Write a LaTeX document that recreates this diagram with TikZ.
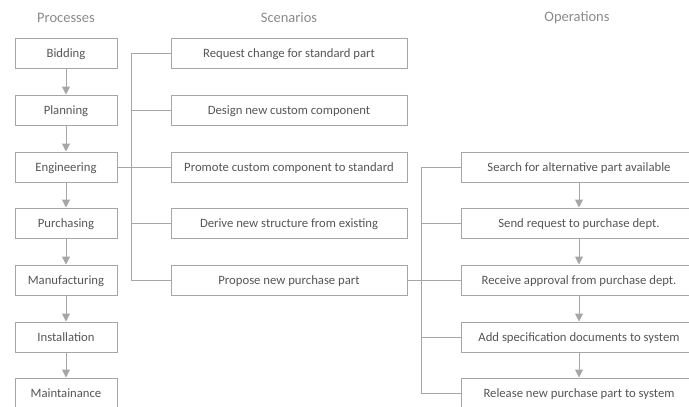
\documentclass[tikz,border=0pt]{standalone}
\usepackage{fontspec}
\setmainfont{Carlito}
\usetikzlibrary{arrows.meta}
\definecolor{boxline}{HTML}{A6A6A6}
\definecolor{boxtext}{HTML}{555555}
\definecolor{titletext}{HTML}{8A8A8A}
\begin{document}
\begin{tikzpicture}[x=1pt,y=-1pt,
  procbox/.style={draw=boxline,line width=1pt,minimum width=102pt,minimum height=30pt,inner sep=0pt,text=boxtext,font=\fontsize{12.7}{14}\selectfont,text height=10.5pt,text depth=1pt},
  widebox/.style={procbox,minimum width=236pt},
  coltitle/.style={text=titletext,font=\fontsize{14.5}{16}\selectfont},
  flow/.style={draw=boxline,line width=1pt,-{Triangle[width=8pt,length=8pt]}},
  link/.style={draw=boxline,line width=1pt}]
\useasboundingbox (0,0) rectangle (689,407);
\node[coltitle] (tp) at (66,18) {Processes};
\node[coltitle] (ts) at (289,18) {Scenarios};
\node[coltitle] (to) at (577,18) {Operations};
% processes
\node[procbox] (p1) at (66,53) {Bidding};
\node[procbox] (p2) at (66,110) {Planning};
\node[procbox] (p3) at (66,167) {Engineering};
\node[procbox] (p4) at (66,223) {Purchasing};
\node[procbox] (p5) at (66,280) {Manufacturing};
\node[procbox] (p6) at (66,337) {Installation};
\node[procbox] (p7) at (66,393) {Maintainance};
\foreach \a/\b in {p1/p2,p2/p3,p3/p4,p4/p5,p5/p6,p6/p7}
  \draw[flow] (\a) -- (\b);
% scenarios
\node[widebox] (s1) at (289,53) {Request change for standard part};
\node[widebox] (s2) at (289,110) {Design new custom component};
\node[widebox] (s3) at (289,167) {Promote custom component to standard};
\node[widebox] (s4) at (289,223) {Derive new structure from existing};
\node[widebox] (s5) at (289,280) {Propose new purchase part};
\coordinate (j1) at (131,167);
\draw[link] (p3.east) -- (j1);
\foreach \s in {s1,s2,s3,s4,s5}
  \draw[link] (j1) |- (\s.west);
% operations
\node[widebox] (o1) at (579,167) {Search for alternative part available};
\node[widebox] (o2) at (579,223) {Send request to purchase dept.};
\node[widebox] (o3) at (579,280) {Receive approval from purchase dept.};
\node[widebox] (o4) at (579,337) {Add specification documents to system};
\node[widebox] (o5) at (579,393) {Release new purchase part to system};
\coordinate (j2) at (421,280);
\draw[link] (s5.east) -- (j2);
\foreach \o in {o1,o2,o3,o4,o5}
  \draw[link] (j2) |- (\o.west);
\foreach \a/\b in {o1/o2,o2/o3,o3/o4,o4/o5}
  \draw[flow] (\a) -- (\b);
\end{tikzpicture}
\end{document}
